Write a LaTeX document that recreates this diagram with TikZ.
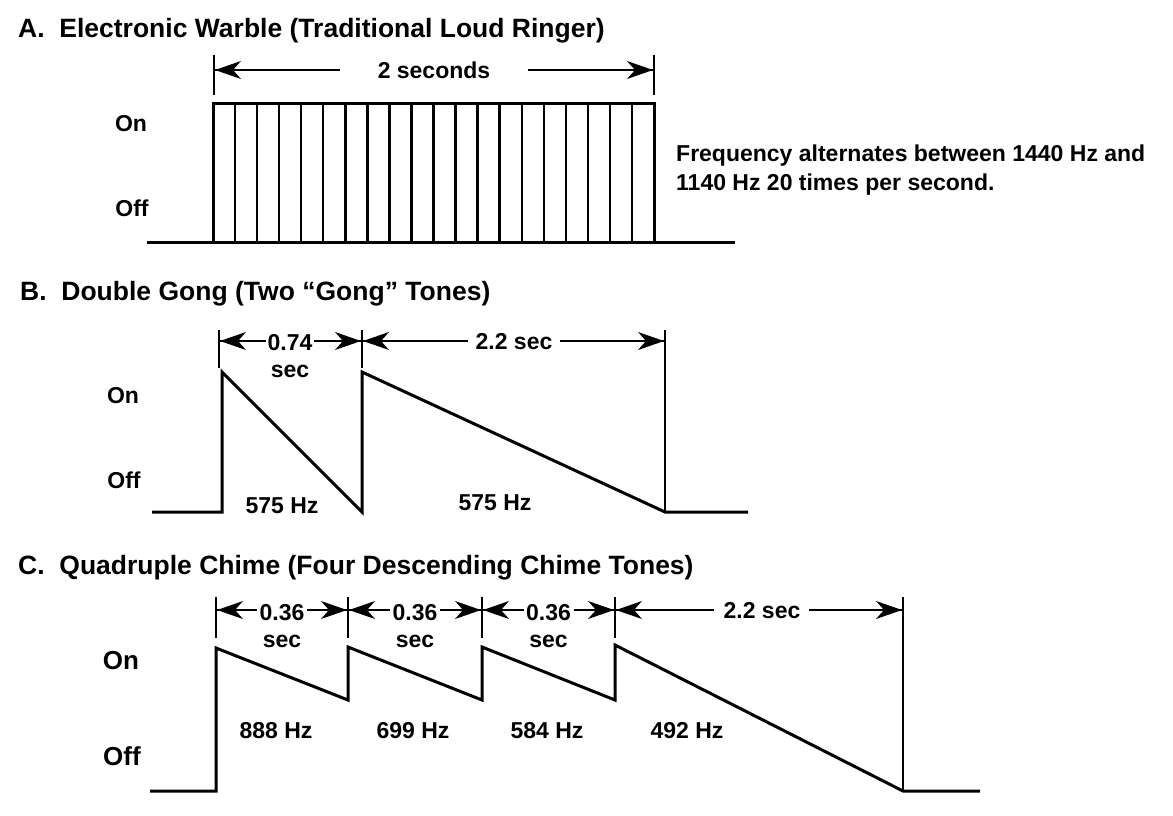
\documentclass[tikz,border=0pt]{standalone}
\usepackage{fontspec}
\setmainfont{Liberation Sans}
\newcommand\myarr[3]{% start, tip coordinate, direction (+1 right, -1 left)
  \draw[line width=1.6pt] (#1) -- (#2);
  \fill[shift={(#2)},xscale=#3] (0,0) -- (-26,-9) -- (-18,0) -- (-26,9) -- cycle;}
\begin{document}
\begin{tikzpicture}[x=1pt,y=-1pt,
  wave/.style={line width=3pt,line join=miter},
  tick/.style={line width=1.5pt},
  lbl/.style={font=\fontsize{23}{27}\selectfont\bfseries,inner sep=1pt},
  ttl/.style={font=\fontsize{26.5}{30}\selectfont\bfseries,anchor=west,inner sep=0pt},
  onoff/.style={font=\fontsize{23}{27}\selectfont\bfseries,inner sep=0pt}]
\useasboundingbox (0,0) rectangle (1173,815);
% A
\node[ttl] (ta) at (18,31) {A.\ \ Electronic Warble (Traditional Loud Ringer)};
\node[onoff] (aon) at (131,124) {On};
\node[onoff] (aoff) at (132,208) {Off};
\draw[wave] (147,242) -- (213,242) -- (213,103) -- (654,103) -- (654,242) -- (735,242);
\draw[wave] (213,242) -- (654,242);
\foreach \i in {1,...,19} \draw[line width=2.4pt] ({213+\i*441/20},103) -- ({213+\i*441/20},242);
\draw[tick] (214,55) -- (214,95); \draw[tick] (654,55) -- (654,95);
\node[lbl] (a2) at (434,70) {2 seconds};
\coordinate (al) at (215,70); \coordinate (ar) at (653,70);
\coordinate (as1) at (340,70); \coordinate (as2) at (528,70);
\myarr{as1}{al}{-1} \myarr{as2}{ar}{1}
\node[font=\fontsize{23}{29}\selectfont\bfseries,align=left,anchor=north west,inner sep=0pt] (freq) at (676,145) {Frequency alternates between 1440 Hz and\\1140 Hz 20 times per second.};
% B
\node[ttl] (tb) at (20,294) {B.\ \ Double Gong (Two \textquotedblleft Gong\textquotedblright\ Tones)};
\node[onoff] (bon) at (123,396) {On};
\node[onoff] (boff) at (124,480) {Off};
\draw[wave] (152,512) -- (222,512) -- (222,372) -- (362,512) -- (362,372) -- (665,512) -- (748,512);
\foreach \x in {219,362} \draw[tick] (\x,330) -- (\x,368);
\draw[tick] (665,330) -- (665,512);
\node[lbl,align=center] (b1) at (290,356) {0.74\\sec};
\node[lbl] (b2) at (514,342) {2.2 sec};
\coordinate (b0) at (220,341); \coordinate (bm) at (361,341); \coordinate (bm2) at (363,341); \coordinate (be) at (664,341);
\coordinate (bs1) at (266,341); \coordinate (bs2) at (314,341); \coordinate (bs3) at (468,341); \coordinate (bs4) at (560,341);
\myarr{bs1}{b0}{-1} \myarr{bs2}{bm}{1} \myarr{bs3}{bm2}{-1} \myarr{bs4}{be}{1}
\node[lbl] (bh1) at (282,506) {575 Hz};
\node[lbl] (bh2) at (495,503) {575 Hz};
% C
\node[ttl] (tc) at (18,568) {C.\ \ Quadruple Chime (Four Descending Chime Tones)};
\node[onoff,font=\fontsize{26}{30}\selectfont\bfseries] (con) at (121,661) {On};
\node[onoff,font=\fontsize{26}{30}\selectfont\bfseries] (coff) at (122,756) {Off};
\draw[wave] (150,791) -- (216,791) -- (216,648) -- (348,700) -- (348,647) -- (482,700) -- (482,647) -- (615,700) -- (615,645) -- (903,791) -- (980,791);
\foreach \x in {216,348,482,615} \draw[tick] (\x,597) -- (\x,638);
\draw[tick] (903,597) -- (903,791);
\foreach \a/\b in {216/348,348/482,482/615} {
  \node[lbl,align=center] at ({(\a+\b)/2},626) {0.36\\sec};
  \coordinate (l) at ({(\a+\b)/2-25},610); \coordinate (lt) at (\a+1,610);
  \coordinate (r) at ({(\a+\b)/2+25},610); \coordinate (rt) at (\b-1,610);
  \myarr{l}{lt}{-1} \myarr{r}{rt}{1}
}
\node[lbl] (c4) at (762,611) {2.2 sec};
\coordinate (c4l) at (714,610); \coordinate (c4lt) at (616,610);
\coordinate (c4r) at (809,610); \coordinate (c4rt) at (902,610);
\myarr{c4l}{c4lt}{-1} \myarr{c4r}{c4rt}{1}
\node[lbl] at (276,731) {888 Hz};
\node[lbl] at (413,731) {699 Hz};
\node[lbl] at (547,731) {584 Hz};
\node[lbl] at (687,731) {492 Hz};
\end{tikzpicture}
\end{document}
